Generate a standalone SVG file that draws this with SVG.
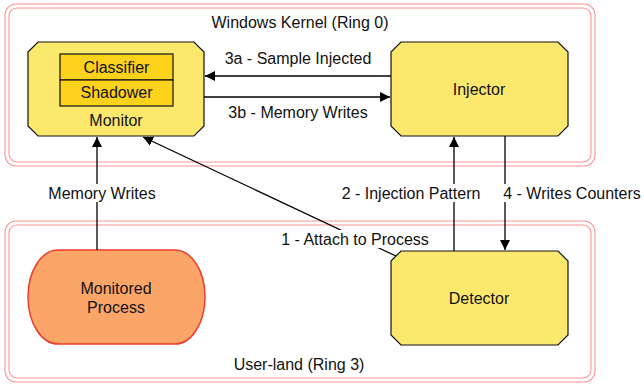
<svg xmlns="http://www.w3.org/2000/svg" width="644" height="384" viewBox="0 0 644 384">
<defs>
<marker id="ah" markerWidth="10" markerHeight="10" viewBox="0 0 10 10" refX="10" refY="5" orient="auto" markerUnits="userSpaceOnUse">
<path d="M0,0 L10,5 L0,10 z" fill="#000"/>
</marker>
<style>
text{font-family:"Liberation Sans",Arial,Helvetica,sans-serif;font-size:16px;fill:#111;text-anchor:middle;dominant-baseline:central}
.outer{fill:none;stroke:#ff9494;stroke-width:1.1}
.node{fill:#fde86e;stroke:#111;stroke-width:1.2}
.sub{fill:#fcd21c;stroke:#111;stroke-width:1.2}
.proc{fill:#fca568;stroke:#ee3b2a;stroke-width:1.5}
.edge{fill:none;stroke:#000;stroke-width:1.3}
.lblbg{fill:#fff}
</style>
</defs>
<g id="kernel">
<rect class="outer" x="5" y="4" width="590" height="162" rx="11"/>
<rect class="outer" x="9" y="8" width="582" height="154" rx="8"/>
<text x="300" y="22">Windows Kernel (Ring 0)</text>
</g>
<g id="userland">
<rect class="outer" x="5" y="221" width="590" height="161" rx="11"/>
<rect class="outer" x="9" y="225" width="582" height="153" rx="8"/>
<text x="299" y="364">User-land (Ring 3)</text>
</g>
<g id="monitor">
<polygon class="node" points="38,42 194,42 204,52 204,126 194,136 38,136 28,126 28,52"/>
<rect class="sub" x="60" y="54" width="113" height="26"/>
<rect class="sub" x="60" y="80" width="113" height="26"/>
<text x="116.5" y="67.5">Classifier</text>
<text x="116.5" y="92.5">Shadower</text>
<text x="116" y="120">Monitor</text>
</g>
<g id="injector">
<polygon class="node" points="401,42 558,42 568,52 568,126 558,136 401,136 391,126 391,52"/>
<text x="479" y="89">Injector</text>
</g>
<g id="monitored-process">
<rect class="proc" x="28" y="250" width="177" height="94" rx="30" ry="47"/>
<text x="116" y="288">Monitored</text>
<text x="116" y="307">Process</text>
</g>
<g id="detector">
<polygon class="node" points="401,251 558,251 568,261 568,335 558,345 401,345 391,335 391,261"/>
<text x="479" y="298">Detector</text>
</g>
<g id="connectors">
<line class="edge" x1="391" y1="76" x2="205" y2="76" marker-end="url(#ah)"/>
<text x="298" y="58">3a - Sample Injected</text>
<line class="edge" x1="204" y1="97" x2="390" y2="97" marker-end="url(#ah)"/>
<text x="298" y="112">3b - Memory Writes</text>
<line class="edge" x1="97" y1="250" x2="97" y2="137" marker-end="url(#ah)"/>
<rect class="lblbg" x="44" y="184" width="116" height="18"/>
<text x="102" y="193">Memory Writes</text>
<line class="edge" x1="396" y1="256" x2="143" y2="137" marker-end="url(#ah)"/>
<rect class="lblbg" x="278" y="230" width="154" height="18"/>
<text x="355" y="239">1 - Attach to Process</text>
<line class="edge" x1="454" y1="251" x2="454" y2="137" marker-end="url(#ah)"/>
<line class="edge" x1="505" y1="136" x2="505" y2="250" marker-end="url(#ah)"/>
<rect class="lblbg" x="338" y="184" width="304" height="18"/>
<text x="411" y="193">2 - Injection Pattern</text>
<text x="572" y="193">4 - Writes Counters</text>
</g>
</svg>
